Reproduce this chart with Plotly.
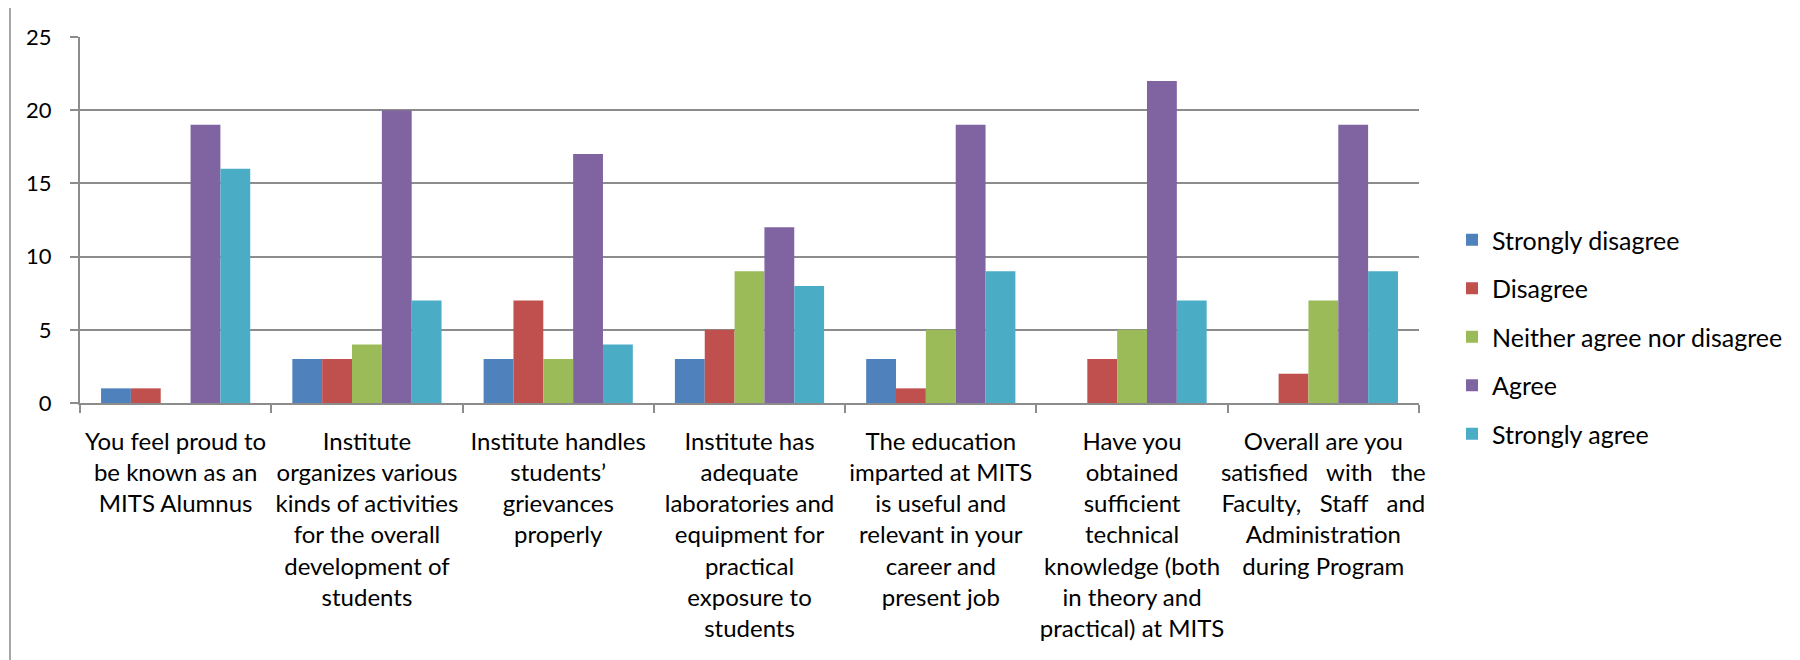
import plotly.graph_objects as go

# survey statements (x categories), wrapped like the original sheet
categories = [
    "You feel proud to<br>be known as an<br>MITS Alumnus",
    "Institute<br>organizes various<br>kinds of activities<br>for the overall<br>development of<br>students",
    "Institute handles<br>students’<br>grievances<br>properly",
    "Institute has<br>adequate<br>laboratories and<br>equipment for<br>practical<br>exposure to<br>students",
    "The education<br>imparted at MITS<br>is useful and<br>relevant in your<br>career and<br>present job",
    "Have you<br>obtained<br>sufficient<br>technical<br>knowledge (both<br>in theory and<br>practical) at MITS",
    "Overall are you<br>satisfied   with   the<br>Faculty,   Staff   and<br>Administration<br>during Program",
]

strongly_disagree = [1, 3, 3, 3, 3, 0, 0]
disagree = [1, 3, 7, 5, 1, 3, 2]
neither = [0, 4, 3, 9, 5, 5, 7]
agree = [19, 20, 17, 12, 19, 22, 19]
strongly_agree = [16, 7, 4, 8, 9, 7, 9]

series = [
    ("Strongly disagree", strongly_disagree, "#4F81BD"),
    ("Disagree", disagree, "#C0504D"),
    ("Neither agree nor disagree", neither, "#9BBB59"),
    ("Agree", agree, "#8064A2"),
    ("Strongly agree", strongly_agree, "#4BACC6"),
]

FONT = "Lato, 'Open Sans', sans-serif"

fig = go.Figure()
for i, (name, vals, col) in enumerate(series):
    fig.add_trace(go.Bar(
        x=categories, y=vals, name=name,
        marker=dict(color=col, line=dict(width=0)),
        legendgroup=str(i),
    ))

# outer frame of the pasted chart (only top and left edges are visible)
fx = (10 - 80) / 1339
fy = 1 + 30 / 366
fig.add_shape(type="line", xref="paper", yref="paper",
              x0=fx, x1=1.5, y0=fy, y1=fy,
              line=dict(color="#A6A6A6", width=2))
fig.add_shape(type="line", xref="paper", yref="paper",
              x0=fx, x1=fx, y0=-1.0, y1=fy,
              line=dict(color="#A6A6A6", width=2))

# page body adds an 8px offset, so margins are 8px smaller than measured
fig.update_layout(
    width=1800, height=660,
    margin=dict(l=72, r=389, t=29, b=265),
    barmode="group", bargap=0.22, bargroupgap=0,
    paper_bgcolor="white", plot_bgcolor="white",
    font=dict(family=FONT, size=24, color="black"),
    legend=dict(
        xref="container", yref="container",
        x=1444 / 1800, y=1 - 329 / 660, yanchor="middle", xanchor="left",
        traceorder="grouped", tracegroupgap=13,
        font=dict(size=25),
    ),
    xaxis=dict(
        automargin=False,
        showline=True, linecolor="#8C8C8C", linewidth=2,
        ticks="outside", tickson="boundaries", ticklen=8, tickcolor="#8C8C8C",
        tickwidth=2, ticklabelstandoff=16, tickangle=0,
        showgrid=False,
    ),
    yaxis=dict(
        automargin=False,
        range=[0, 25], dtick=5,
        showline=True, linecolor="#8C8C8C", linewidth=2,
        ticks="outside", ticklen=8, tickcolor="#8C8C8C", tickwidth=2,
        gridcolor="#8C8C8C", gridwidth=2, zeroline=False,
        ticklabelstandoff=14,
        tickfont=dict(size=22),
    ),
)

fig.write_html("out.html")
